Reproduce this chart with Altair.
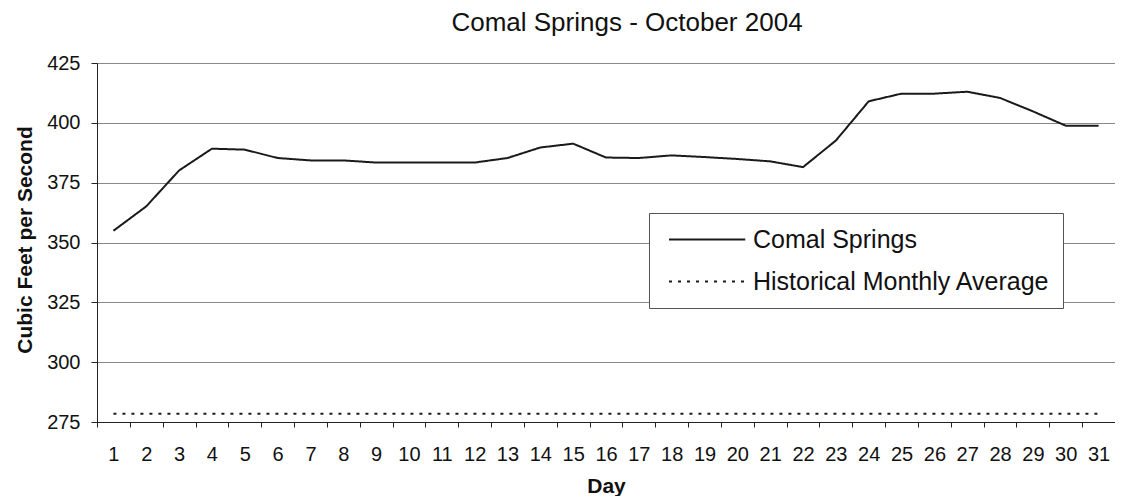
import altair as alt
import pandas as pd

days = list(range(1, 32))
comal = [354.9, 365.1, 380.1, 389.2, 388.8, 385.3, 384.3, 384.3, 383.4, 383.4,
         383.4, 383.4, 385.3, 389.7, 391.3, 385.5, 385.3, 386.4, 385.7, 384.9,
         383.9, 381.5, 392.6, 409.0, 412.2, 412.2, 413.0, 410.4, 404.8, 398.8,
         398.8]
hist_avg = 278.4
series = ["Comal Springs", "Historical Monthly Average"]
y_ticks = [275, 300, 325, 350, 375, 400, 425]

rows = [{"day": d, "cfs": v, "series": series[0]} for d, v in zip(days, comal)]
rows += [{"day": d, "cfs": hist_avg, "series": series[1]} for d in days]
df = pd.DataFrame(rows)

FONT = "Liberation Sans"
W, H = 1018, 359

leg = alt.Legend(title=None, orient="none", legendX=552, legendY=150)

chart = alt.Chart(df).mark_line(strokeWidth=2).encode(
    x=alt.X("day:O",
            scale=alt.Scale(type="band", paddingInner=0, paddingOuter=0),
            axis=alt.Axis(title="Day", labelAngle=0, tickBand="extent", grid=False,
                          tickSize=5, labelPadding=17, titleX=W / 2, titleY=70,
                          titleBaseline="alphabetic", titleAlign="center")),
    y=alt.Y("cfs:Q",
            scale=alt.Scale(domain=[275, 425], nice=False, zero=False),
            axis=alt.Axis(values=y_ticks, title="Cubic Feet per Second", grid=True,
                          tickSize=6, labelPadding=11, titleAngle=270,
                          titleX=-72, titleY=H / 2 - 3, titleAlign="center",
                          titleBaseline="middle")),
    color=alt.Color("series:N",
                    scale=alt.Scale(domain=series, range=["#1a1a1a", "#1a1a1a"]),
                    legend=leg),
    strokeDash=alt.StrokeDash("series:N",
                              scale=alt.Scale(domain=series, range=[[1, 0], [3, 6]]),
                              legend=leg),
).properties(
    width=W,
    height=H,
    background="white",
    title=alt.TitleParams("Comal Springs - October 2004", fontSize=26, font=FONT,
                          fontWeight="normal", anchor="middle", frame="group",
                          offset=0, dx=21, dy=4, baseline="alphabetic", color="#111"),
    autosize=alt.AutoSizeParams(type="none"),
    padding={"left": 89, "top": 55, "right": 0, "bottom": 74},
).configure_view(
    stroke="#888", strokeWidth=1
).configure_axis(
    domainColor="#222", tickColor="#222", gridColor="#888", gridWidth=1,
    labelFont=FONT, labelFontSize=20, labelColor="#111",
    titleFont=FONT, titleFontSize=21, titleFontWeight="bold", titleColor="#111",
).configure_legend(
    strokeColor="#555", fillColor="white", padding=13,
    labelFont=FONT, labelFontSize=25, labelColor="#111", labelLimit=600,
    symbolType="M-1,0H5.1", symbolSize=625, symbolStrokeWidth=2,
    symbolStrokeColor="#1a1a1a", symbolFillColor="transparent",
    rowPadding=15, labelOffset=58, symbolOffset=6,
    cornerRadius=0,
)

chart.save("out.html", embed_options={"renderer": "svg", "actions": False})
